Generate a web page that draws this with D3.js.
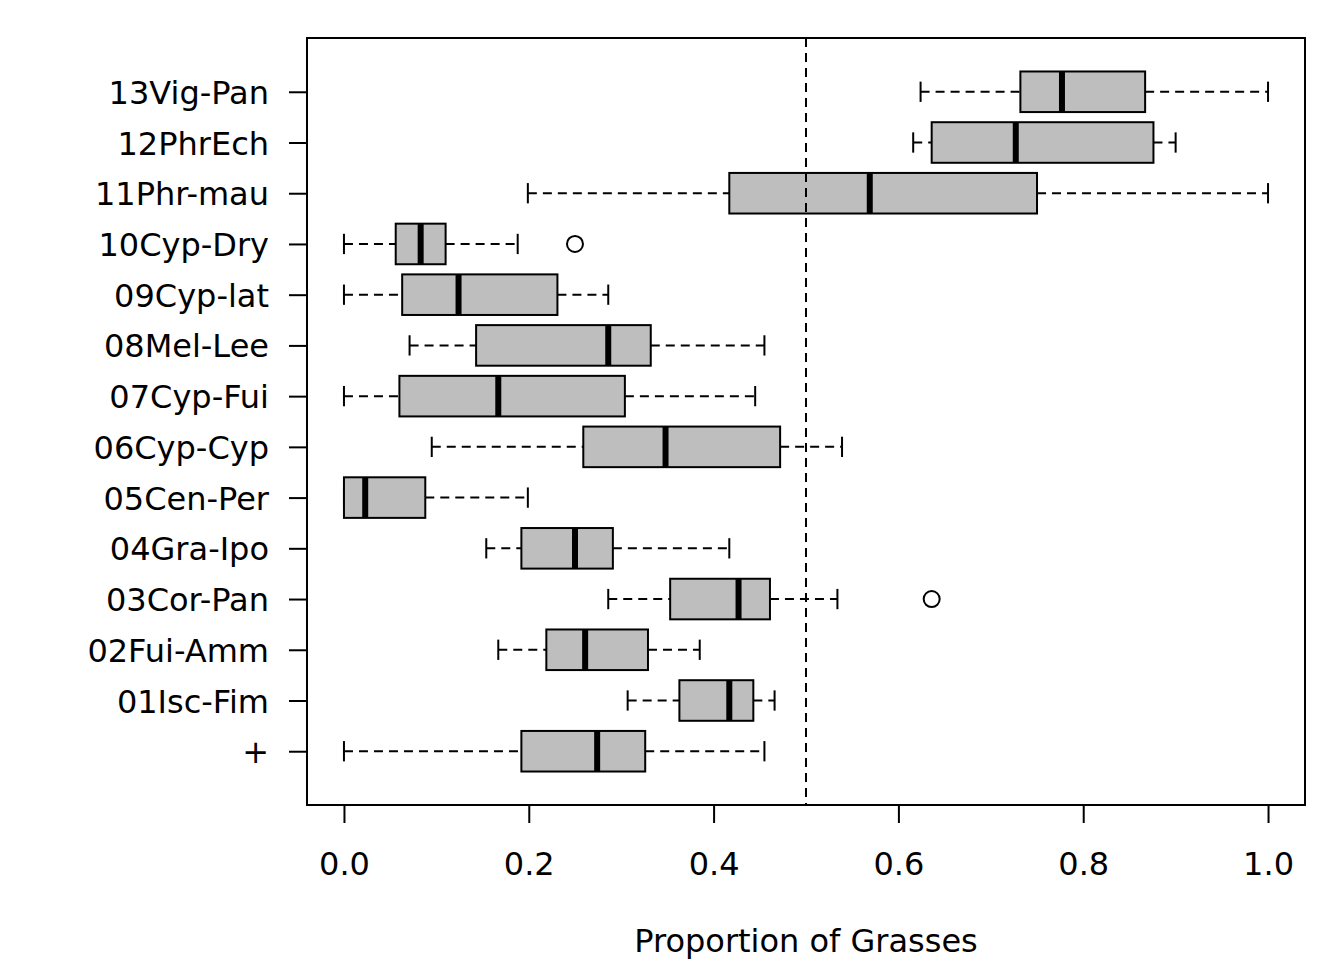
<!DOCTYPE html>
<html><head><meta charset="utf-8">
<script src="https://cdn.jsdelivr.net/npm/d3@7"></script>
<style>body{margin:0;background:#fff}svg{display:block}</style>
</head><body>
<svg id="c" width="1344" height="960"></svg>
<script>
const categories = ["+","01Isc-Fim","02Fui-Amm","03Cor-Pan","04Gra-Ipo","05Cen-Per","06Cyp-Cyp","07Cyp-Fui","08Mel-Lee","09Cyp-lat","10Cyp-Dry","11Phr-mau","12PhrEch","13Vig-Pan"];
const whiskerLow = [0.000,0.307,0.167,0.286,0.154,0.000,0.095,0.000,0.071,0.000,0.000,0.199,0.616,0.624];
const q1         = [0.192,0.363,0.219,0.353,0.192,0.000,0.259,0.060,0.143,0.063,0.056,0.417,0.636,0.732];
const medians    = [0.274,0.417,0.261,0.427,0.250,0.023,0.348,0.167,0.286,0.124,0.083,0.569,0.727,0.777];
const q3         = [0.326,0.443,0.329,0.461,0.291,0.088,0.472,0.304,0.332,0.231,0.110,0.750,0.876,0.867];
const whiskerHigh= [0.455,0.466,0.385,0.534,0.417,0.199,0.539,0.445,0.455,0.286,0.188,1.000,0.900,1.000];
const outliers   = [[],[],[],[0.636],[],[],[],[],[],[],[0.250],[],[],[]];
const xTicks = [0.0,0.2,0.4,0.6,0.8,1.0];
const xLabel = "Proportion of Grasses";
const refLine = 0.5;

const svg = d3.select("#c");
const L=307,R=1305,T=38,B=805;
const FONT = "'DejaVu Sans', sans-serif";
const FS = 32;
const x = d3.scaleLinear().domain([-0.04,1.04]).range([L,R]);
const n = categories.length;
const pad = (n)*0.04;
const y = d3.scaleLinear().domain([0.5-pad, n+0.5+pad]).range([B,T]);
const unit = Math.abs(y(1)-y(0));
const bh = unit*0.8, cap = bh*0.5;

const g = svg.append("g");
const data = categories.map((c,i)=>({c,i,lo:whiskerLow[i],q1:q1[i],med:medians[i],q3:q3[i],hi:whiskerHigh[i],out:outliers[i]}));

const rows = g.selectAll("g.row").data(data).enter().append("g");
rows.each(function(d){
  const s = d3.select(this), cy = y(d.i+1);
  s.append("line").attr("x1",x(d.lo)).attr("x2",x(d.q1)).attr("y1",cy).attr("y2",cy)
   .attr("stroke","#000").attr("stroke-width",2).attr("stroke-dasharray","9,6");
  s.append("line").attr("x1",x(d.q3)).attr("x2",x(d.hi)).attr("y1",cy).attr("y2",cy)
   .attr("stroke","#000").attr("stroke-width",2).attr("stroke-dasharray","9,6");
  s.append("line").attr("x1",x(d.lo)).attr("x2",x(d.lo)).attr("y1",cy-cap/2).attr("y2",cy+cap/2)
   .attr("stroke","#000").attr("stroke-width",2);
  s.append("line").attr("x1",x(d.hi)).attr("x2",x(d.hi)).attr("y1",cy-cap/2).attr("y2",cy+cap/2)
   .attr("stroke","#000").attr("stroke-width",2);
  s.append("rect").attr("x",x(d.q1)).attr("y",cy-bh/2).attr("width",Math.max(0,x(d.q3)-x(d.q1))).attr("height",bh)
   .attr("fill","#bebebe").attr("stroke","#000").attr("stroke-width",2);
  s.append("line").attr("x1",x(d.med)).attr("x2",x(d.med)).attr("y1",cy-bh/2).attr("y2",cy+bh/2)
   .attr("stroke","#000").attr("stroke-width",6);
  d.out.forEach(o=>{
    s.append("circle").attr("cx",x(o)).attr("cy",cy).attr("r",8).attr("fill","none").attr("stroke","#000").attr("stroke-width",2);
  });
});

g.append("line").attr("x1",x(refLine)).attr("x2",x(refLine)).attr("y1",T).attr("y2",B)
 .attr("stroke","#000").attr("stroke-width",2).attr("stroke-dasharray","9,6");

g.append("rect").attr("x",L).attr("y",T).attr("width",R-L).attr("height",B-T).attr("fill","none").attr("stroke","#000").attr("stroke-width",2);

const xa = svg.append("g").attr("transform",`translate(0,${B})`)
  .call(d3.axisBottom(x).tickValues(xTicks).tickFormat(d3.format(".1f")).tickSize(18));
xa.select(".domain").remove();
xa.selectAll("line").attr("stroke-width",2);
xa.selectAll("text").attr("font-family",FONT).attr("font-size",FS).attr("fill","#000")
  .attr("y",70).attr("dy",null);
const ya = svg.append("g").attr("transform",`translate(${L},0)`)
  .call(d3.axisLeft(y).tickValues(d3.range(1,n+1)).tickFormat(d=>categories[d-1]).tickSize(18));
ya.select(".domain").remove();
ya.selectAll("line").attr("stroke-width",2);
ya.selectAll("text").attr("font-family",FONT).attr("font-size",FS).attr("fill","#000")
  .attr("x",-38).attr("dy","0.36em");

svg.append("text").attr("x",x(0.5)).attr("y",952).attr("text-anchor","middle")
  .attr("font-family",FONT).attr("font-size",FS).text(xLabel);
</script>
</body></html>
